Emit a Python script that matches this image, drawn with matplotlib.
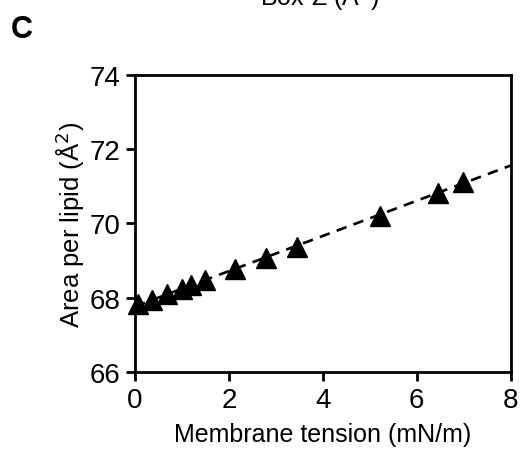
import numpy as np
import matplotlib
matplotlib.use("Agg")
from matplotlib import pyplot as plt

plt.rcParams['font.family'] = ['Liberation Sans', 'DejaVu Sans']

# Data
tension = [0.07, 0.37, 0.69, 1.00, 1.19, 1.49, 2.13, 2.79, 3.45, 5.22, 6.45, 6.98]
area = [67.83, 67.95, 68.09, 68.23, 68.35, 68.48, 68.78, 69.08, 69.36, 70.20, 70.83, 71.13]
x_ticks = [0, 2, 4, 6, 8]
y_ticks = [66, 68, 70, 72, 74]

# Linear fit shown as dashed line across the full x range
slope, intercept = np.polyfit(tension, area, 1)
fit_x = np.array([0, 8])
fit_y = slope * fit_x + intercept

fig = plt.figure(figsize=(5.2, 4.52), dpi=100)
ax = fig.add_axes([0.2596, 0.1748, 0.7224, 0.6571])

ax.plot(fit_x, fit_y, linestyle=(0, (4, 2.8)), color='black', linewidth=1.9, zorder=2)
ax.plot(tension, area, linestyle='none', marker='^', markersize=15,
        color='black', clip_on=False, zorder=3)

ax.set_xlim(0, 8)
ax.set_ylim(66, 74)
ax.set_xticks(x_ticks)
ax.set_yticks(y_ticks)
ax.tick_params(direction='out', length=6.5, width=2, labelsize=20, pad=4)

for spine in ax.spines.values():
    spine.set_linewidth(2)

ax.set_xlabel("Membrane tension (mN/m)", fontsize=18, labelpad=7)
ax.set_ylabel("Area per lipid (Å$^2$)", fontsize=18.5, labelpad=2)

# panel letter and the cut-off label from the panel above
fig.text(11 / 520, 1 - 38 / 452, "C", fontsize=22, fontweight='bold', va='baseline')
fig.text(320 / 520, 1 - 5 / 452, "Box-Z (Å$^2$)", fontsize=18, ha='center', va='baseline')

fig.savefig("out.png", dpi=100)
